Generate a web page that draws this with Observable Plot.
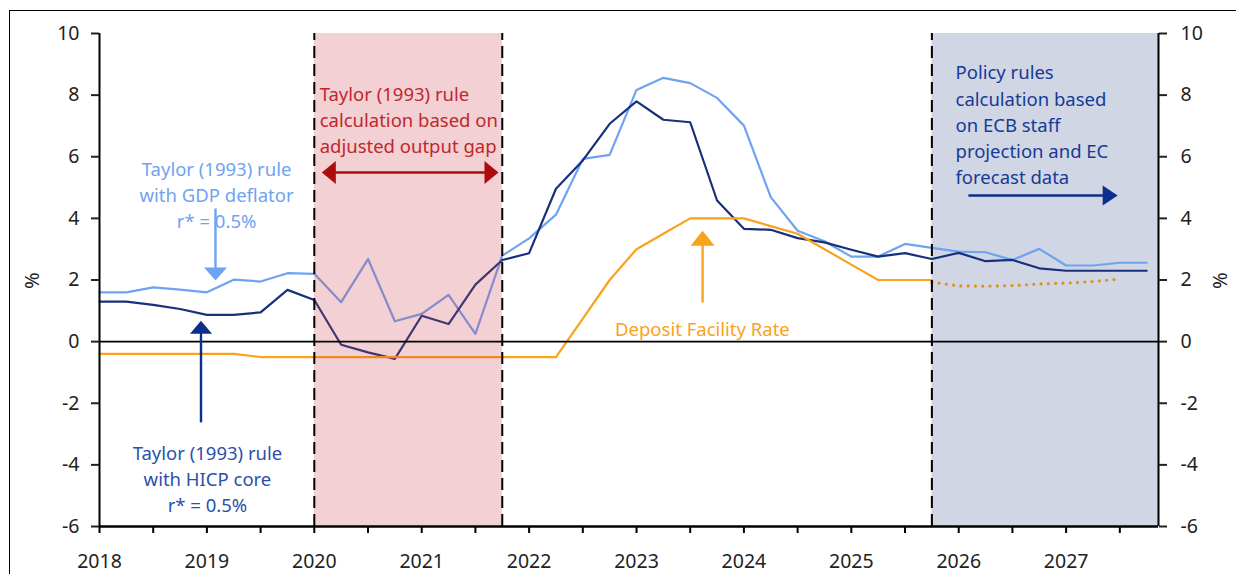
<!DOCTYPE html>
<html><head><meta charset="utf-8">
<script src="https://cdn.jsdelivr.net/npm/d3@7"></script>
<script src="https://cdn.jsdelivr.net/npm/@observablehq/plot@0.6"></script>
<style>
html,body{margin:0;padding:0;background:#fff;overflow:hidden;}
#wrap{position:relative;width:1236px;height:574px;}
#border{position:absolute;left:9px;top:10px;width:1300px;height:700px;border:1px solid #000;box-sizing:border-box;pointer-events:none;}
#wrap svg{position:absolute;left:0;top:0;}
</style></head><body><div id="wrap"><div id="border"></div></div>
<script>
const quarters = ["2018Q1","2018Q2","2018Q3","2018Q4","2019Q1","2019Q2","2019Q3","2019Q4",
  "2020Q1","2020Q2","2020Q3","2020Q4","2021Q1","2021Q2","2021Q3","2021Q4",
  "2022Q1","2022Q2","2022Q3","2022Q4","2023Q1","2023Q2","2023Q3","2023Q4",
  "2024Q1","2024Q2","2024Q3","2024Q4","2025Q1","2025Q2","2025Q3","2025Q4",
  "2026Q1","2026Q2","2026Q3","2026Q4","2027Q1","2027Q2","2027Q3","2027Q4"];
const taylorGdpDeflator = [1.60,1.60,1.76,1.69,1.60,2.01,1.95,2.22, 2.20,1.28,2.68,0.66,0.90,1.52,0.25,2.79,
  3.35,4.12,5.93,6.06,8.17,8.56,8.39,7.91, 7.01,4.69,3.60,3.26,2.76,2.76,3.17,3.04,
  2.92,2.90,2.65,3.01,2.47,2.47,2.56,2.56];
const taylorHicpCore = [1.30,1.30,1.19,1.06,0.87,0.87,0.95,1.68, 1.35,-0.10,-0.35,-0.56,0.84,0.57,1.85,2.65,
  2.87,4.96,5.88,7.07,7.80,7.20,7.12,4.58, 3.66,3.63,3.36,3.22,2.98,2.76,2.87,2.68,
  2.88,2.61,2.65,2.38,2.30,2.30,2.30,2.30];
const depositFacilityRate = [-0.40,-0.40,-0.40,-0.40,-0.40,-0.40,-0.50,-0.50, -0.50,-0.50,-0.50,-0.50,-0.50,-0.50,-0.50,-0.50,
  -0.50,-0.50,0.75,2.00,3.00,3.50,4.00,4.00, 4.00,3.75,3.50,3.00,2.50,2.00,2.00,2.00,
  null,null,null,null,null,null,null,null];
const dfrMarketPath = [null,null,null,null,null,null,null,null, null,null,null,null,null,null,null,null,
  null,null,null,null,null,null,null,null, null,null,null,null,null,null,null,1.93,
  1.81,1.80,1.82,1.87,1.90,1.95,2.03,null];
const yTicks = [-6,-4,-2,0,2,4,6,8,10];
const yearTicks = [2018,2019,2020,2021,2022,2023,2024,2025,2026,2027];
const halfYearTicks = d3.range(2018, 2028, 0.5);
const adjustedGapWindow = [{start: 2020, end: 2021.75}];
const projectionWindow = [{start: 2025.75, end: 2027.86}];
const dividers = [2020, 2021.75, 2025.75];

const xOf = q => +q.slice(0,4) + (+q.slice(5) - 1) / 4;
const rows = vals => vals.map((v,i) => ({x: xOf(quarters[i]), v})).filter(d => d.v != null);

const C = {
  light: "#6fa3f2", navy: "#17307c", orange: "#f9a21b", dots: "#e0921e",
  red: "#c0272d", redArrow: "#ad0c0c", blueText: "#2a50ab", policy: "#163a96", policyArrow: "#0e2d8c",
  pink: "#cb434f", gray: "#d0d6e3"
};

const centeredNotes = [
  {x: 2019.09, y: 4.80, text: "Taylor (1993) rule\nwith GDP deflator\nr* = 0.5%", fill: C.light},
  {x: 2019.005, y: -4.41, text: "Taylor (1993) rule\nwith HICP core\nr* = 0.5%", fill: C.blueText}
];
const leftNotes = [
  {x: 2020.05, y: 7.24, text: "Taylor (1993) rule\ncalculation based on\nadjusted output gap", fill: C.red},
  {x: 2025.97, y: 7.08, text: "Policy rules\ncalculation based\non ECB staff\nprojection and EC\nforecast data", fill: C.policy},
  {x: 2022.80, y: 0.45, text: "Deposit Facility Rate", fill: C.orange}
];
const shafts = [
  {x1: 2019.08, y1: 4.32, x2: 2019.08, y2: 2.30, c: C.light},
  {x1: 2018.945, y1: -2.62, x2: 2018.945, y2: 0.40, c: C.policyArrow},
  {x1: 2020.15, y1: 5.49, x2: 2021.64, y2: 5.49, c: C.redArrow},
  {x1: 2023.615, y1: 1.27, x2: 2023.615, y2: 3.30, c: C.orange},
  {x1: 2026.09, y1: 4.74, x2: 2027.36, y2: 4.74, c: C.policyArrow}
];
// arrow heads: tip at (x, y); w = half base width, h = length (pixels)
const heads = [
  {x: 2019.08, y: 1.98, c: C.light, w: 11.5, h: 13, rot: 180},
  {x: 2018.945, y: 0.68, c: C.policyArrow, w: 11, h: 13, rot: 0},
  {x: 2020.07, y: 5.49, c: C.redArrow, w: 11.5, h: 14, rot: -90},
  {x: 2021.715, y: 5.49, c: C.redArrow, w: 11.5, h: 14, rot: 90},
  {x: 2023.615, y: 3.60, c: C.orange, w: 12, h: 15, rot: 0},
  {x: 2027.48, y: 4.74, c: C.policyArrow, w: 10, h: 15, rot: 90}
];
const headSymbol = (w, h) => ({draw(ctx) {
  ctx.moveTo(0, 0); ctx.lineTo(w, h); ctx.lineTo(-w, h); ctx.closePath();
}});

const chart = Plot.plot({
  width: 1236, height: 574,
  marginLeft: 99, marginRight: 78, marginTop: 33, marginBottom: 48,
  x: {domain: [2018, 2027.86]},
  y: {domain: [-6, 10]},
  style: {fontFamily: "'Noto Sans', sans-serif", background: "transparent", overflow: "visible"},
  marks: [
    Plot.rect(projectionWindow, {x1: "start", x2: "end", y1: -6, y2: 10, fill: C.gray}),
    Plot.line(rows(taylorGdpDeflator), {x: "x", y: "v", stroke: C.light, strokeWidth: 2.2}),
    Plot.line(rows(taylorHicpCore), {x: "x", y: "v", stroke: C.navy, strokeWidth: 2.2}),
    Plot.line(rows(depositFacilityRate), {x: "x", y: "v", stroke: C.orange, strokeWidth: 2.2}),
    Plot.line(rows(dfrMarketPath), {x: "x", y: "v", stroke: C.dots, strokeWidth: 3.2, strokeDasharray: "0,7.3", strokeLinecap: "round"}),
    Plot.rect(adjustedGapWindow, {x1: "start", x2: "end", y1: -6, y2: 10, fill: C.pink, fillOpacity: 0.25}),
    Plot.ruleY([0], {stroke: "#000", strokeWidth: 1.6}),
    Plot.ruleX(dividers, {y1: -6, y2: 10, stroke: "#000", strokeWidth: 2, strokeDasharray: "12,6"}),
    Plot.ruleX([2018, 2027.86], {stroke: "#000", strokeWidth: 2}),
    Plot.ruleY([-6], {stroke: "#000", strokeWidth: 2.5}),
    Plot.axisY({anchor: "left", ticks: yTicks, tickFormat: d => String(d), tickSize: 8, tickPadding: 12, fontSize: 19.5, strokeWidth: 2, label: null, color: "#222"}),
    Plot.axisY({anchor: "right", ticks: yTicks, tickFormat: d => String(d), tickSize: 8, tickPadding: 14, fontSize: 19.5, strokeWidth: 2, label: null, color: "#222"}),
    Plot.axisX({ticks: halfYearTicks, tickFormat: () => "", tickSize: 7, strokeWidth: 2, label: null}),
    Plot.axisX({ticks: yearTicks, tickFormat: d => String(d), tickSize: 0, tickPadding: 28, fontSize: 19.5, label: null, color: "#222"}),
    Plot.text(["%"], {x: 2017.38, y: 1.98, text: d => d, rotate: -90, fontSize: 20, fill: "#222"}),
    Plot.text(["%"], {x: 2028.44, y: 1.98, text: d => d, rotate: -90, fontSize: 20, fill: "#222"}),
    Plot.link(shafts, {x1: "x1", y1: "y1", x2: "x2", y2: "y2", stroke: "c", strokeWidth: 2.4}),
    ...heads.map(h => Plot.dot([h], {x: "x", y: "y", r: 5, rotate: h.rot, fill: h.c, stroke: "none", symbol: headSymbol(h.w, h.h)})),
    Plot.text(centeredNotes, {x: "x", y: "y", text: "text", fill: "fill", textAnchor: "middle", lineAnchor: "middle", lineHeight: 1.42, fontSize: 18.5}),
    Plot.text(leftNotes, {x: "x", y: "y", text: "text", fill: "fill", textAnchor: "start", lineAnchor: "middle", lineHeight: 1.42, fontSize: 18.5})
  ]
});
document.getElementById("wrap").appendChild(chart);
</script></body></html>
